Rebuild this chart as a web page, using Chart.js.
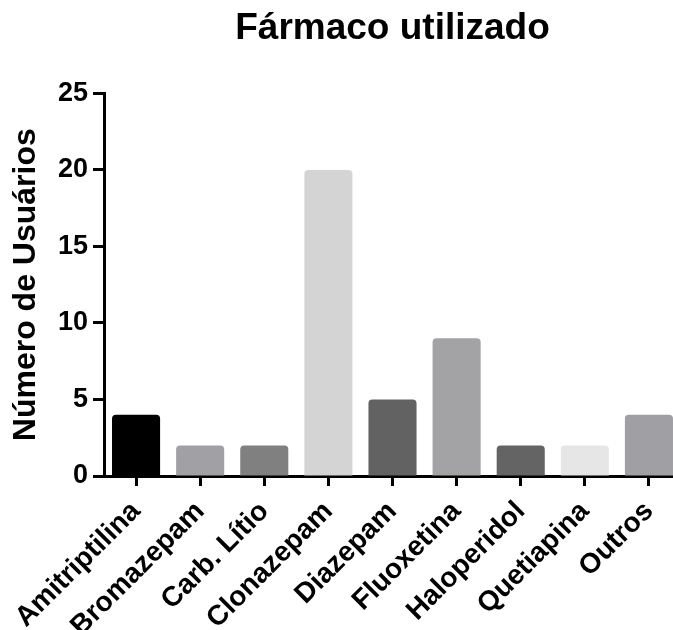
<!DOCTYPE html>
<html>
<head>
<meta charset="utf-8">
<script src="https://cdn.jsdelivr.net/npm/chart.js@4"></script>
<style>
    html, body { margin: 0; padding: 0; background: #fff; overflow: hidden; }
    #wrap { position: absolute; left: 0; top: 0; }
</style>
</head>
<body>
<div id="wrap"><canvas id="farmacoChart" width="684" height="630"></canvas></div>
<script>
// dados
const categorias = ['Amitriptilina', 'Bromazepam', 'Carb. Lítio', 'Clonazepam', 'Diazepam', 'Fluoxetina', 'Haloperidol', 'Quetiapina', 'Outros'];
const usuarios = [4, 2, 2, 20, 5, 9, 2, 2, 4];
const coresBarras = ['#000000', '#a1a1a5', '#808080', '#d4d4d4', '#626262', '#a3a3a6', '#646464', '#e6e6e6', '#a0a0a4'];
const yTicks = [0, 5, 10, 15, 20, 25];

const fonte = '"Liberation Sans", Arial, sans-serif';

// grafico de barras
new Chart(document.getElementById('farmacoChart'), {
    type: 'bar',
    data: {
        labels: categorias,
        datasets: [
            {
                data: usuarios,
                backgroundColor: coresBarras,
                borderWidth: 0,
                borderRadius: 4,
                barPercentage: 0.75,
                categoryPercentage: 1
            }
        ]
    },
    options: {
        responsive: false,
        animation: false,
        layout: { padding: { right: 3 } },
        plugins: {
            legend: { display: false },
            tooltip: { enabled: false },
            title: {
                display: true,
                fullSize: false,   // centra o titulo sobre a area do grafico
                text: 'Fármaco utilizado',
                color: '#000',
                font: { family: fonte, size: 37, weight: 'bold' },
                padding: { top: 7, bottom: 42 }
            }
        },
        scales: {
            x: {
                grid: {
                    display: true,
                    drawOnChartArea: false,
                    offset: false,
                    tickLength: 10,
                    tickWidth: 3,
                    tickColor: '#000'
                },
                border: { display: true, color: '#000', width: 3 },
                ticks: {
                    color: '#000',
                    font: { family: fonte, size: 28, weight: 'bold' },
                    minRotation: 45,
                    maxRotation: 45,
                    autoSkip: false,
                    padding: 9
                },
                afterFit: scale => { scale.height = 154; }
            },
            y: {
                min: 0,
                max: 25,
                afterBuildTicks: scale => { scale.ticks = yTicks.map(v => ({ value: v })); },
                grid: {
                    display: true,
                    drawOnChartArea: false,
                    tickLength: 11,
                    tickWidth: 3,
                    tickColor: '#000'
                },
                border: { display: true, color: '#000', width: 3 },
                ticks: {
                    color: '#000',
                    font: { family: fonte, size: 27, weight: 'bold' },
                    padding: 5
                },
                title: {
                    display: true,
                    text: 'Número de Usuários',
                    color: '#000',
                    font: { family: fonte, size: 32, weight: 'bold' },
                    padding: { top: 7, bottom: 0 }
                },
                afterFit: scale => { scale.width = 104; }
            }
        }
    }
});
</script>
</body>
</html>
